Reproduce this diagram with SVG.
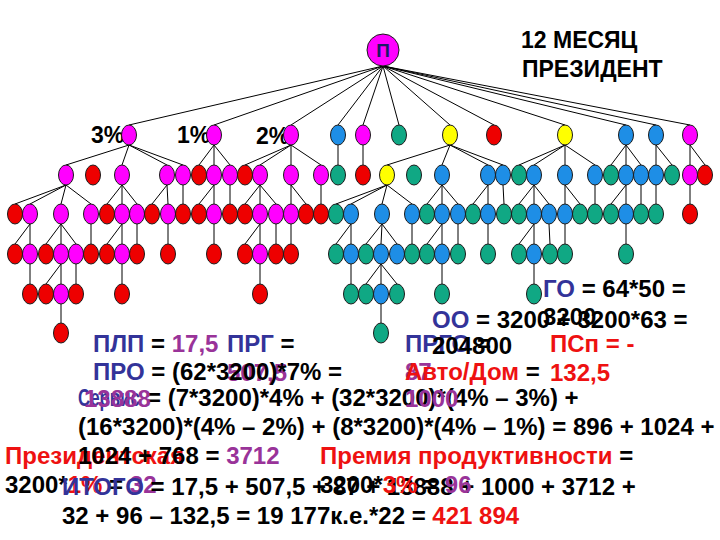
<svg xmlns="http://www.w3.org/2000/svg" width="720" height="540" viewBox="0 0 720 540">
<style>
.m{fill:#ff00ff}.r{fill:#ee0000}.b{fill:#1e8ee6}.g{fill:#10a884}.y{fill:#ffff00}
ellipse,circle{stroke:#1a1a1a;stroke-width:1}
.t{font-family:"Liberation Sans",Arial,sans-serif;font-weight:bold;font-size:24px;fill:#000}
.tb{fill:#333399}.tp{fill:#993399}.tr{fill:#ee1111}
#connectors path{stroke:#000;stroke-width:1;fill:none}
</style>
<rect width="720" height="540" fill="#fff"/>
<g id="labels" class="t" style="font-size:23px">
<text x="91" y="143">3%</text>
<text x="177" y="143">1%</text>
<text x="256" y="144">2%</text>
</g>
<g id="title" class="t" style="font-size:23px">
<text x="521" y="48">12 МЕСЯЦ</text>
<text x="522" y="77">ПРЕЗИДЕНТ</text>
</g>
<g id="connectors">
<path d="M383 66L129 125M383 66L214 125M383 66L291 125M383 66L338 125M383 66L363 125M383 66L399 125M383 66L450 125M383 66L494 125M383 66L565 125M383 66L626 125M383 66L656 125M383 66L690 125
M129 145L66 165M129 145L122 165M129 145L167 165M129 145L183 165M214 145L199 165M214 145L214 165M214 145L230 165M291 145L245 165M291 145L260 165M291 145L291 165M291 145L321 165M338 145L338 165M363 145L363 165M450 145L387 165M450 145L442 165M450 145L488 165M450 145L503 165M565 145L519 165M565 145L534 165M565 145L565 165M565 145L595 165M626 145L611 165M626 145L626 165M626 145L641 165M656 145L656 165M656 145L672 165M690 145L690 165M690 145L705 165
M66 185L15 204M66 185L30 204M66 185L61 204M66 185L91 204M122 185L107 204M122 185L122 204M122 185L137 204M167 185L152 204M167 185L168 204M183 185L183 204M214 185L199 204M214 185L214 204M230 185L230 204M260 185L245 204M260 185L260 204M260 185L276 204M291 185L291 204M291 185L306 204M321 185L321 204M387 185L336 204M387 185L351 204M387 185L382 204M387 185L412 204M442 185L427 204M442 185L442 204M442 185L458 204M488 185L473 204M488 185L488 204M503 185L504 204M534 185L519 204M534 185L534 204M534 185L549 204M565 185L565 204M565 185L580 204M595 185L595 204M626 185L611 204M626 185L626 204M641 185L641 204M656 185L656 204M690 185L690 204
M30 224L15 244M30 224L30 244M61 224L46 244M61 224L61 244M61 224L76 244M91 224L91 244M122 224L107 244M122 224L122 244M137 224L137 244M168 224L168 244M214 224L214 244M260 224L245 244M260 224L260 244M276 224L276 244M291 224L291 244M351 224L336 244M351 224L351 244M382 224L366 244M382 224L381 244M382 224L397 244M412 224L412 244M442 224L427 244M442 224L442 244M458 224L458 244M488 224L488 244M534 224L519 244M534 224L534 244M549 224L550 244M565 224L565 244M626 224L626 244
M30 264L30 284M61 264L46 284M61 264L61 284M76 264L76 284M122 264L122 284M260 264L260 284M351 264L351 284M381 264L366 284M381 264L381 284M381 264L397 284M442 264L442 284M534 264L534 284
M61 304L61 323M381 304L381 323"/>
</g>
<g id="root"><circle cx="383" cy="50" r="16" class="m"/><text x="383" y="57" text-anchor="middle" class="t" style="font-size:19px;fill:#1a1a66">П</text></g>
<g id="L1">
<g id="n1-129"><ellipse cx="129" cy="135" rx="7.5" ry="10" class="m"/></g>
<g id="n1-214"><ellipse cx="214" cy="135" rx="7.5" ry="10" class="m"/></g>
<g id="n1-291"><ellipse cx="291" cy="135" rx="7.5" ry="10" class="m"/></g>
<g id="n1-338"><ellipse cx="338" cy="135" rx="7.5" ry="10" class="b"/></g>
<g id="n1-363"><ellipse cx="363" cy="135" rx="7.5" ry="10" class="m"/></g>
<g id="n1-399"><ellipse cx="399" cy="135" rx="7.5" ry="10" class="g"/></g>
<g id="n1-450"><ellipse cx="450" cy="135" rx="7.5" ry="10" class="y"/></g>
<g id="n1-494"><ellipse cx="494" cy="135" rx="7.5" ry="10" class="r"/></g>
<g id="n1-565"><ellipse cx="565" cy="135" rx="7.5" ry="10" class="y"/></g>
<g id="n1-626"><ellipse cx="626" cy="135" rx="7.5" ry="10" class="b"/></g>
<g id="n1-656"><ellipse cx="656" cy="135" rx="7.5" ry="10" class="b"/></g>
<g id="n1-690"><ellipse cx="690" cy="135" rx="7.5" ry="10" class="m"/></g>
</g>
<g id="L2">
<g id="n2-66"><ellipse cx="66" cy="175" rx="7.5" ry="10" class="m"/></g>
<g id="n2-93"><ellipse cx="93" cy="175" rx="7.5" ry="10" class="r"/></g>
<g id="n2-122"><ellipse cx="122" cy="175" rx="7.5" ry="10" class="m"/></g>
<g id="n2-167"><ellipse cx="167" cy="175" rx="7.5" ry="10" class="m"/></g>
<g id="n2-183"><ellipse cx="183" cy="175" rx="7.5" ry="10" class="m"/></g>
<g id="n2-199"><ellipse cx="199" cy="175" rx="7.5" ry="10" class="r"/></g>
<g id="n2-214"><ellipse cx="214" cy="175" rx="7.5" ry="10" class="m"/></g>
<g id="n2-230"><ellipse cx="230" cy="175" rx="7.5" ry="10" class="m"/></g>
<g id="n2-245"><ellipse cx="245" cy="175" rx="7.5" ry="10" class="r"/></g>
<g id="n2-260"><ellipse cx="260" cy="175" rx="7.5" ry="10" class="m"/></g>
<g id="n2-291"><ellipse cx="291" cy="175" rx="7.5" ry="10" class="m"/></g>
<g id="n2-321"><ellipse cx="321" cy="175" rx="7.5" ry="10" class="m"/></g>
<g id="n2-338"><ellipse cx="338" cy="175" rx="7.5" ry="10" class="g"/></g>
<g id="n2-363"><ellipse cx="363" cy="175" rx="7.5" ry="10" class="r"/></g>
<g id="n2-387"><ellipse cx="387" cy="175" rx="7.5" ry="10" class="y"/></g>
<g id="n2-414"><ellipse cx="414" cy="175" rx="7.5" ry="10" class="g"/></g>
<g id="n2-442"><ellipse cx="442" cy="175" rx="7.5" ry="10" class="b"/></g>
<g id="n2-488"><ellipse cx="488" cy="175" rx="7.5" ry="10" class="b"/></g>
<g id="n2-503"><ellipse cx="503" cy="175" rx="7.5" ry="10" class="b"/></g>
<g id="n2-519"><ellipse cx="519" cy="175" rx="7.5" ry="10" class="g"/></g>
<g id="n2-534"><ellipse cx="534" cy="175" rx="7.5" ry="10" class="b"/></g>
<g id="n2-565"><ellipse cx="565" cy="175" rx="7.5" ry="10" class="b"/></g>
<g id="n2-595"><ellipse cx="595" cy="175" rx="7.5" ry="10" class="b"/></g>
<g id="n2-611"><ellipse cx="611" cy="175" rx="7.5" ry="10" class="g"/></g>
<g id="n2-626"><ellipse cx="626" cy="175" rx="7.5" ry="10" class="b"/></g>
<g id="n2-641"><ellipse cx="641" cy="175" rx="7.5" ry="10" class="b"/></g>
<g id="n2-656"><ellipse cx="656" cy="175" rx="7.5" ry="10" class="b"/></g>
<g id="n2-672"><ellipse cx="672" cy="175" rx="7.5" ry="10" class="g"/></g>
<g id="n2-690"><ellipse cx="690" cy="175" rx="7.5" ry="10" class="m"/></g>
<g id="n2-705"><ellipse cx="705" cy="175" rx="7.5" ry="10" class="r"/></g>
</g>
<g id="L3">
<g id="n3-15"><ellipse cx="15" cy="214" rx="7.5" ry="10" class="r"/></g>
<g id="n3-30"><ellipse cx="30" cy="214" rx="7.5" ry="10" class="m"/></g>
<g id="n3-61"><ellipse cx="61" cy="214" rx="7.5" ry="10" class="m"/></g>
<g id="n3-91"><ellipse cx="91" cy="214" rx="7.5" ry="10" class="m"/></g>
<g id="n3-107"><ellipse cx="107" cy="214" rx="7.5" ry="10" class="r"/></g>
<g id="n3-122"><ellipse cx="122" cy="214" rx="7.5" ry="10" class="m"/></g>
<g id="n3-137"><ellipse cx="137" cy="214" rx="7.5" ry="10" class="m"/></g>
<g id="n3-152"><ellipse cx="152" cy="214" rx="7.5" ry="10" class="r"/></g>
<g id="n3-168"><ellipse cx="168" cy="214" rx="7.5" ry="10" class="m"/></g>
<g id="n3-183"><ellipse cx="183" cy="214" rx="7.5" ry="10" class="r"/></g>
<g id="n3-199"><ellipse cx="199" cy="214" rx="7.5" ry="10" class="r"/></g>
<g id="n3-214"><ellipse cx="214" cy="214" rx="7.5" ry="10" class="m"/></g>
<g id="n3-230"><ellipse cx="230" cy="214" rx="7.5" ry="10" class="r"/></g>
<g id="n3-245"><ellipse cx="245" cy="214" rx="7.5" ry="10" class="r"/></g>
<g id="n3-260"><ellipse cx="260" cy="214" rx="7.5" ry="10" class="m"/></g>
<g id="n3-276"><ellipse cx="276" cy="214" rx="7.5" ry="10" class="m"/></g>
<g id="n3-291"><ellipse cx="291" cy="214" rx="7.5" ry="10" class="m"/></g>
<g id="n3-306"><ellipse cx="306" cy="214" rx="7.5" ry="10" class="r"/></g>
<g id="n3-321"><ellipse cx="321" cy="214" rx="7.5" ry="10" class="r"/></g>
<g id="n3-336"><ellipse cx="336" cy="214" rx="7.5" ry="10" class="g"/></g>
<g id="n3-351"><ellipse cx="351" cy="214" rx="7.5" ry="10" class="b"/></g>
<g id="n3-382"><ellipse cx="382" cy="214" rx="7.5" ry="10" class="b"/></g>
<g id="n3-412"><ellipse cx="412" cy="214" rx="7.5" ry="10" class="b"/></g>
<g id="n3-427"><ellipse cx="427" cy="214" rx="7.5" ry="10" class="g"/></g>
<g id="n3-442"><ellipse cx="442" cy="214" rx="7.5" ry="10" class="b"/></g>
<g id="n3-458"><ellipse cx="458" cy="214" rx="7.5" ry="10" class="b"/></g>
<g id="n3-473"><ellipse cx="473" cy="214" rx="7.5" ry="10" class="g"/></g>
<g id="n3-488"><ellipse cx="488" cy="214" rx="7.5" ry="10" class="b"/></g>
<g id="n3-504"><ellipse cx="504" cy="214" rx="7.5" ry="10" class="g"/></g>
<g id="n3-519"><ellipse cx="519" cy="214" rx="7.5" ry="10" class="g"/></g>
<g id="n3-534"><ellipse cx="534" cy="214" rx="7.5" ry="10" class="b"/></g>
<g id="n3-549"><ellipse cx="549" cy="214" rx="7.5" ry="10" class="b"/></g>
<g id="n3-565"><ellipse cx="565" cy="214" rx="7.5" ry="10" class="b"/></g>
<g id="n3-580"><ellipse cx="580" cy="214" rx="7.5" ry="10" class="g"/></g>
<g id="n3-595"><ellipse cx="595" cy="214" rx="7.5" ry="10" class="g"/></g>
<g id="n3-611"><ellipse cx="611" cy="214" rx="7.5" ry="10" class="g"/></g>
<g id="n3-626"><ellipse cx="626" cy="214" rx="7.5" ry="10" class="b"/></g>
<g id="n3-641"><ellipse cx="641" cy="214" rx="7.5" ry="10" class="g"/></g>
<g id="n3-656"><ellipse cx="656" cy="214" rx="7.5" ry="10" class="g"/></g>
<g id="n3-690"><ellipse cx="690" cy="214" rx="7.5" ry="10" class="r"/></g>
</g>
<g id="L4">
<g id="n4-15"><ellipse cx="15" cy="254" rx="7.5" ry="10" class="r"/></g>
<g id="n4-30"><ellipse cx="30" cy="254" rx="7.5" ry="10" class="m"/></g>
<g id="n4-46"><ellipse cx="46" cy="254" rx="7.5" ry="10" class="r"/></g>
<g id="n4-61"><ellipse cx="61" cy="254" rx="7.5" ry="10" class="m"/></g>
<g id="n4-76"><ellipse cx="76" cy="254" rx="7.5" ry="10" class="m"/></g>
<g id="n4-91"><ellipse cx="91" cy="254" rx="7.5" ry="10" class="r"/></g>
<g id="n4-107"><ellipse cx="107" cy="254" rx="7.5" ry="10" class="r"/></g>
<g id="n4-122"><ellipse cx="122" cy="254" rx="7.5" ry="10" class="m"/></g>
<g id="n4-137"><ellipse cx="137" cy="254" rx="7.5" ry="10" class="r"/></g>
<g id="n4-168"><ellipse cx="168" cy="254" rx="7.5" ry="10" class="r"/></g>
<g id="n4-214"><ellipse cx="214" cy="254" rx="7.5" ry="10" class="r"/></g>
<g id="n4-245"><ellipse cx="245" cy="254" rx="7.5" ry="10" class="r"/></g>
<g id="n4-260"><ellipse cx="260" cy="254" rx="7.5" ry="10" class="m"/></g>
<g id="n4-276"><ellipse cx="276" cy="254" rx="7.5" ry="10" class="r"/></g>
<g id="n4-291"><ellipse cx="291" cy="254" rx="7.5" ry="10" class="r"/></g>
<g id="n4-336"><ellipse cx="336" cy="254" rx="7.5" ry="10" class="g"/></g>
<g id="n4-351"><ellipse cx="351" cy="254" rx="7.5" ry="10" class="b"/></g>
<g id="n4-366"><ellipse cx="366" cy="254" rx="7.5" ry="10" class="g"/></g>
<g id="n4-381"><ellipse cx="381" cy="254" rx="7.5" ry="10" class="b"/></g>
<g id="n4-397"><ellipse cx="397" cy="254" rx="7.5" ry="10" class="b"/></g>
<g id="n4-412"><ellipse cx="412" cy="254" rx="7.5" ry="10" class="g"/></g>
<g id="n4-427"><ellipse cx="427" cy="254" rx="7.5" ry="10" class="g"/></g>
<g id="n4-442"><ellipse cx="442" cy="254" rx="7.5" ry="10" class="b"/></g>
<g id="n4-458"><ellipse cx="458" cy="254" rx="7.5" ry="10" class="g"/></g>
<g id="n4-488"><ellipse cx="488" cy="254" rx="7.5" ry="10" class="g"/></g>
<g id="n4-519"><ellipse cx="519" cy="254" rx="7.5" ry="10" class="g"/></g>
<g id="n4-534"><ellipse cx="534" cy="254" rx="7.5" ry="10" class="b"/></g>
<g id="n4-550"><ellipse cx="550" cy="254" rx="7.5" ry="10" class="g"/></g>
<g id="n4-565"><ellipse cx="565" cy="254" rx="7.5" ry="10" class="g"/></g>
<g id="n4-626"><ellipse cx="626" cy="254" rx="7.5" ry="10" class="g"/></g>
</g>
<g id="L5">
<g id="n5-30"><ellipse cx="30" cy="294" rx="7.5" ry="10" class="r"/></g>
<g id="n5-46"><ellipse cx="46" cy="294" rx="7.5" ry="10" class="r"/></g>
<g id="n5-61"><ellipse cx="61" cy="294" rx="7.5" ry="10" class="m"/></g>
<g id="n5-76"><ellipse cx="76" cy="294" rx="7.5" ry="10" class="r"/></g>
<g id="n5-122"><ellipse cx="122" cy="294" rx="7.5" ry="10" class="r"/></g>
<g id="n5-260"><ellipse cx="260" cy="294" rx="7.5" ry="10" class="r"/></g>
<g id="n5-351"><ellipse cx="351" cy="294" rx="7.5" ry="10" class="g"/></g>
<g id="n5-366"><ellipse cx="366" cy="294" rx="7.5" ry="10" class="g"/></g>
<g id="n5-381"><ellipse cx="381" cy="294" rx="7.5" ry="10" class="b"/></g>
<g id="n5-397"><ellipse cx="397" cy="294" rx="7.5" ry="10" class="g"/></g>
<g id="n5-442"><ellipse cx="442" cy="294" rx="7.5" ry="10" class="g"/></g>
<g id="n5-534"><ellipse cx="534" cy="294" rx="7.5" ry="10" class="g"/></g>
</g>
<g id="L6">
<g id="n6-61"><ellipse cx="61" cy="333" rx="7.5" ry="10" class="r"/></g>
<g id="n6-381"><ellipse cx="381" cy="333" rx="7.5" ry="10" class="g"/></g>
</g>
<g id="texts" class="t">
<text x="543" y="297"><tspan class="tb">ГО</tspan> = 64*50 =</text>
<text x="543" y="325">3200</text>
<text x="405" y="352"><tspan class="tb">ПРГО</tspan> =</text>
<text x="405" y="380" class="tp">87</text>
<text x="432" y="328"><tspan class="tb">ОО</tspan> = 3200 + 3200*63 =</text>
<text x="432" y="354">204800</text>
<text x="93" y="352"><tspan class="tb">ПЛП</tspan> = <tspan class="tp">17,5</tspan></text>
<text x="227" y="352"><tspan class="tb">ПРГ</tspan> =</text>
<text x="227" y="381" class="tp">507,5</text>
<text x="550" y="352" class="tr">ПСп = -</text>
<text x="550" y="381" class="tr">132,5</text>
<text x="78" y="406" class="tb" textLength="62" lengthAdjust="spacingAndGlyphs">Сервис</text>
<text x="147" y="406">= (7*3200)*4% + (32*3200)*(4% – 3%) +</text>
<text x="78" y="435">(16*3200)*(4% – 2%) + (8*3200)*(4% – 1%) = 896 + 1024 +</text>
<text x="5" y="464" class="tr">Президентская</text>
<text x="78" y="464">1024 + 768 = <tspan class="tp">3712</tspan></text>
<text x="93" y="380"><tspan class="tb">ПРО</tspan> = (62*3200)*7% =</text>
<text x="84" y="407" class="tp">13888</text>
<text x="405" y="380"><tspan class="tr">Авто/Дом</tspan> =</text>
<text x="405" y="407" class="tp">1000</text>
<text x="5" y="493">3200*<tspan class="tr">1%</tspan> = <tspan class="tp">32</tspan></text>
<text x="62" y="495"><tspan class="tb">ИТОГО</tspan> = 17,5 + 507,5 + 87 + 13888 + 1000 + 3712 +</text>
<text x="62" y="524">32 + 96 – 132,5 = 19 177к.е.*22 = <tspan class="tr">421 894</tspan></text>
<text x="320" y="464"><tspan class="tr">Премия продуктивности</tspan> =</text>
<text x="320" y="493">3200*<tspan class="tr">3%</tspan> = <tspan class="tp">96</tspan></text>
</g>
</svg>
